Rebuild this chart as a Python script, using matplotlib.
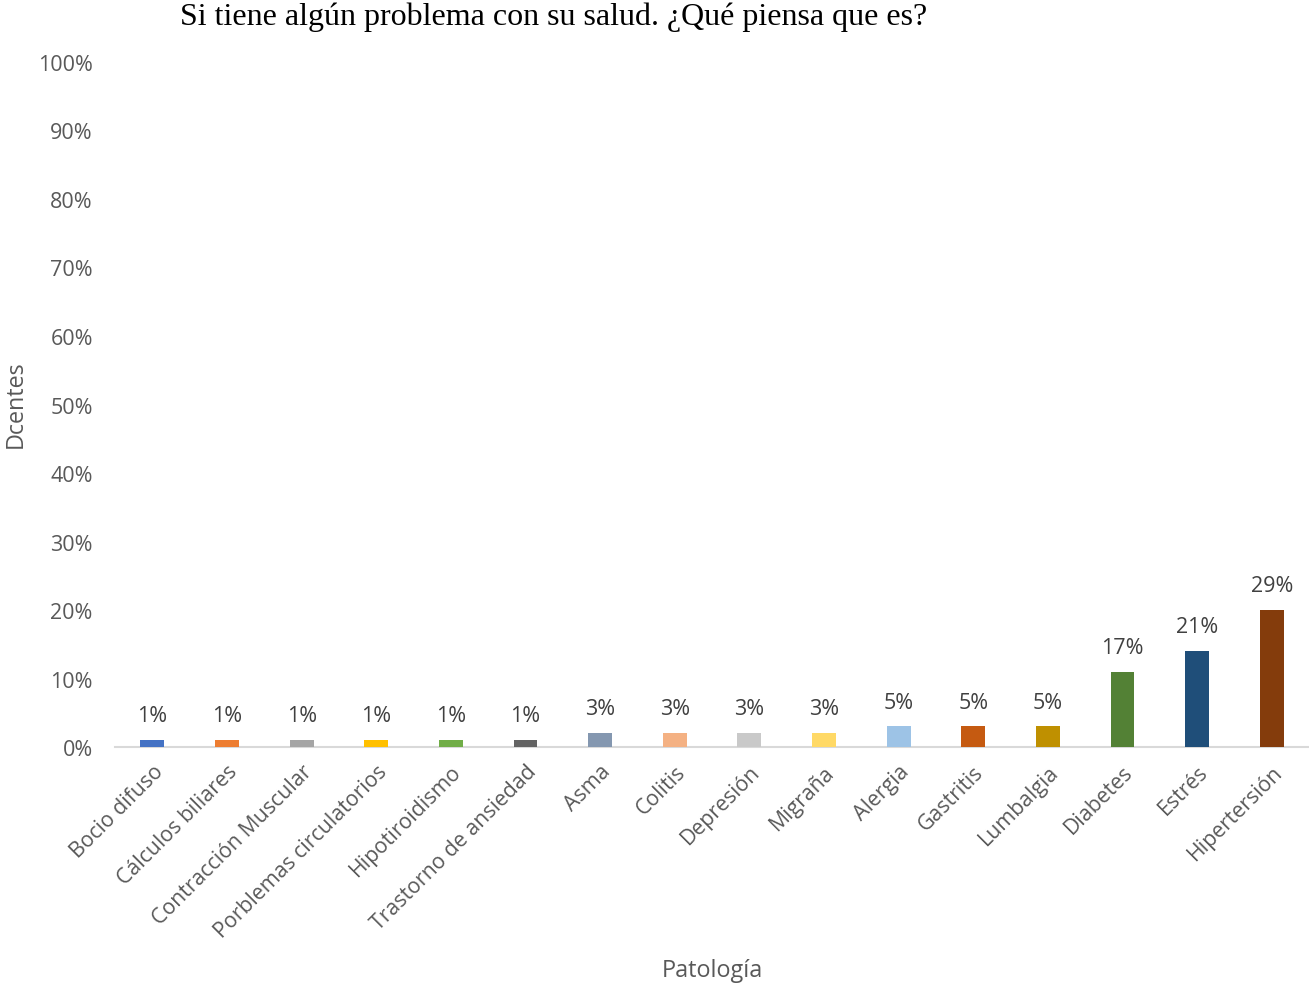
import matplotlib
matplotlib.use("Agg")
import matplotlib.pyplot as plt

patologias = [
    "Bocio difuso", "Cálculos biliares", "Contracción Muscular",
    "Porblemas circulatorios", "Hipotiroidismo", "Trastorno de ansiedad",
    "Asma", "Colitis", "Depresión", "Migraña", "Alergia", "Gastritis",
    "Lumbalgia", "Diabetes", "Estrés", "Hipertersión",
]
docentes = [1, 1, 1, 1, 1, 1, 2, 2, 2, 2, 3, 3, 3, 11, 14, 20]
porcentajes = [1, 1, 1, 1, 1, 1, 3, 3, 3, 3, 5, 5, 5, 17, 21, 29]
colores = [
    "#4472C4", "#ED7D31", "#A5A5A5", "#FFC000", "#70AD47", "#636363",
    "#8497B0", "#F4B183", "#C9C9C9", "#FFD966", "#9DC3E6", "#C55A11",
    "#BF9000", "#538135", "#1F4E79", "#843C0C",
]
yticks = list(range(0, 101, 10))

sans = ["Open Sans", "DejaVu Sans"]
serif = ["Liberation Serif", "DejaVu Serif"]

fig = plt.figure(figsize=(13.09, 9.87), dpi=100)
ax = fig.add_axes([0.0879, 0.2421, 0.9121, 0.6941])

x = list(range(len(patologias)))
bars = ax.bar(x, docentes, width=0.32, color=colores, zorder=3)

for rect, p in zip(bars, porcentajes):
    ax.annotate(f"{p}%", (rect.get_x() + rect.get_width() / 2, rect.get_height()),
                xytext=(0, 10), textcoords="offset points", ha="center", va="bottom",
                fontsize=15.5, color="#404040", family=sans)

ax.set_xlim(-0.5, len(patologias) - 0.5)
ax.set_ylim(0, 100)
ax.set_yticks(yticks)
ax.set_yticklabels([f"{v}%" for v in yticks], family=sans, fontsize=15.5, color="#595959")
ax.set_xticks(x)
ax.set_xticklabels(patologias, rotation=45, ha="right", rotation_mode="anchor",
                   family=sans, fontsize=15.3, color="#595959")
ax.tick_params(axis="both", length=0)
ax.tick_params(axis="y", pad=16)
ax.tick_params(axis="x", pad=10)

for side in ["top", "right", "left"]:
    ax.spines[side].set_visible(False)
ax.spines["bottom"].set_color("#D9D9D9")
ax.spines["bottom"].set_linewidth(1.5)

fig.text(0.423, 0.983, "Si tiene algún problema con su salud. ¿Qué piensa que es?",
         ha="center", va="center", family=serif, fontsize=23, color="black")
fig.text(0.544, 0.016, "Patología", ha="center", va="center",
         family=sans, fontsize=16.8, color="#595959")
fig.text(0.012, 0.59, "Dcentes", ha="center", va="center", rotation=90,
         family=sans, fontsize=16.8, color="#595959")

fig.savefig("out.png", dpi=100)
